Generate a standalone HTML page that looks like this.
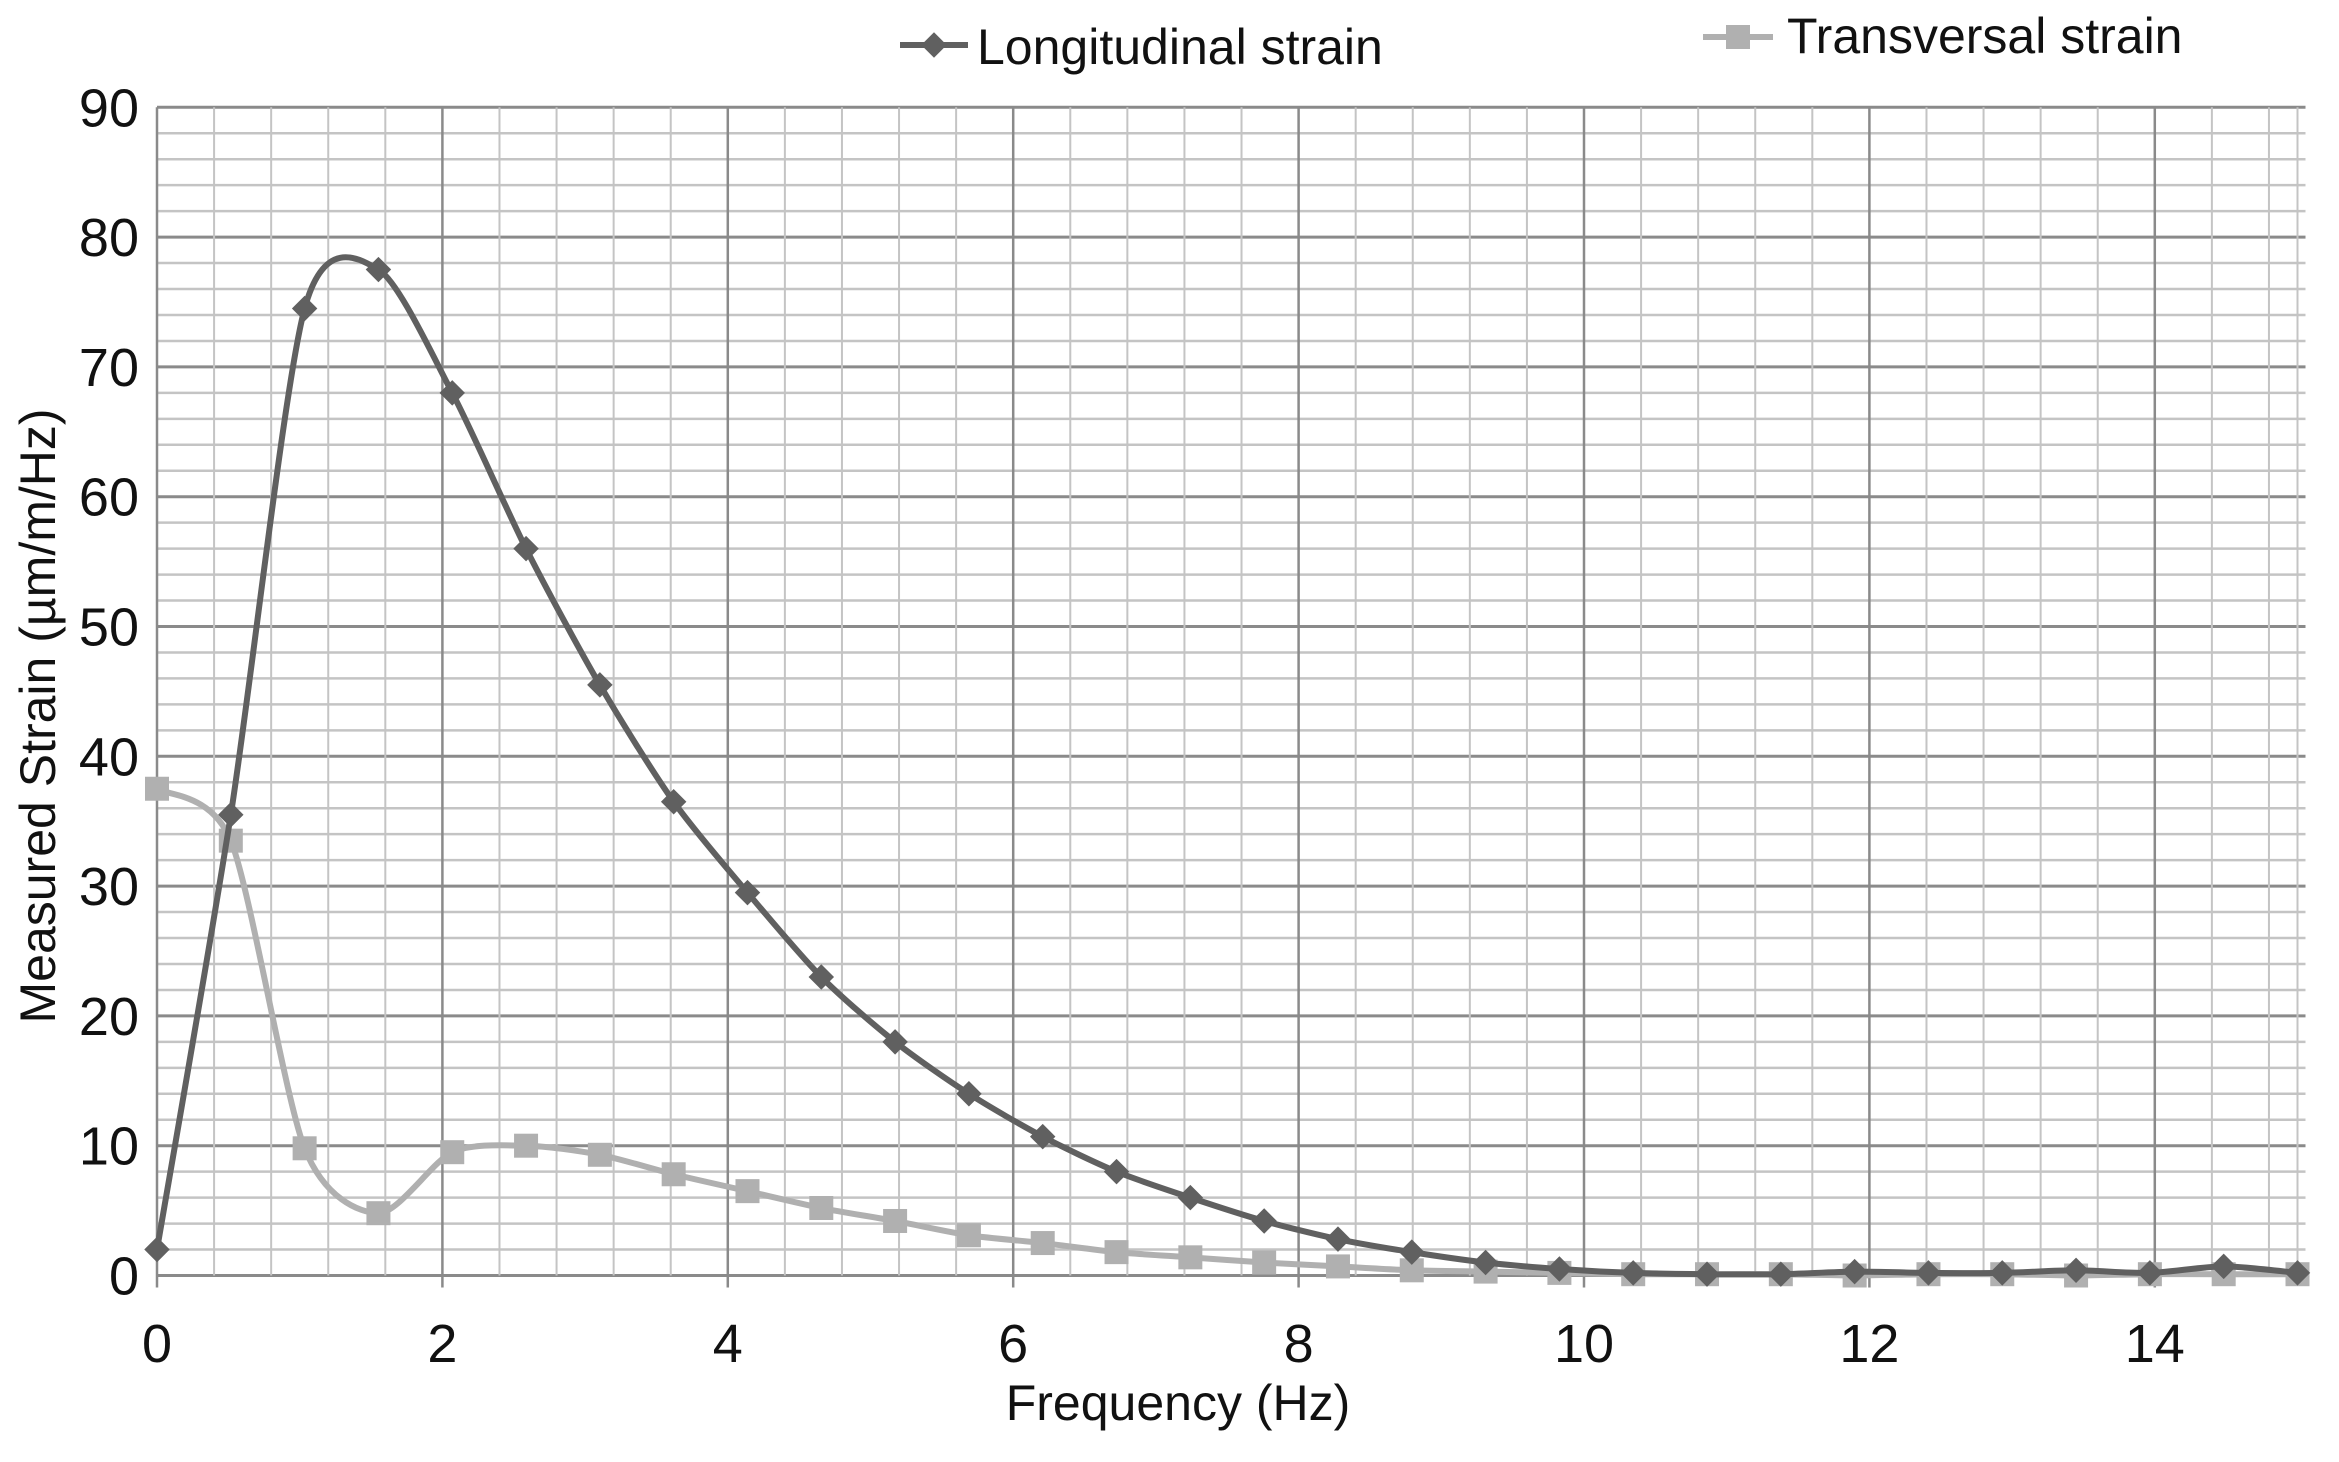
<!DOCTYPE html>
<html><head><meta charset="utf-8">
<style>html,body{margin:0;padding:0;background:#fff;}svg{display:block;}</style>
</head><body>
<svg id="s" width="2339" height="1462" viewBox="0 0 2339 1462" xmlns="http://www.w3.org/2000/svg" font-family="'Liberation Sans Narrow','Liberation Sans',sans-serif">
<rect width="2339" height="1462" fill="#fff"/>
<g id="grid"></g>
<g id="series"></g>
<g font-size="50" fill="#111">
<text x="977" y="64">Longitudinal strain</text>
<text x="1787" y="53">Transversal strain</text>
<text x="1178" y="1420" text-anchor="middle">Frequency (Hz)</text>
<text transform="translate(55,716) rotate(-90)" text-anchor="middle">Measured Strain (µm/m/Hz)</text>
</g>
<g id="ticks" font-size="54" fill="#111"></g>
<line x1="900" y1="45" x2="968" y2="45" stroke="#606060" stroke-width="6"/>
<rect x="925" y="36" width="18" height="18" fill="#606060" transform="rotate(45 934 45)"/>
<line x1="1703" y1="37" x2="1773" y2="37" stroke="#b0b0b0" stroke-width="6"/>
<rect x="1726" y="25" width="24" height="24" fill="#b0b0b0"/>
</svg>
<script>
var X0=157,XS=142.7,Y0=1275.5,YS=12.98;
function X(v){return X0+v*XS;} function Y(v){return Y0-v*YS;}
var ns="http://www.w3.org/2000/svg";
function el(p,t,a){var e=document.createElementNS(ns,t);for(var k in a)e.setAttribute(k,a[k]);document.getElementById(p).appendChild(e);return e;}
var xr=X(15)+8;
for(var i=0;i<=45;i++){var v=i*2;var maj=(v%10==0);
 el('grid','line',{x1:X0,x2:xr,y1:Y(v),y2:Y(v),stroke:maj?'#8a8a8a':'#c4c4c4','stroke-width':maj?3:2.5});}
for(var i=0;i<=37;i++){var v=i*0.4;var maj=(i%5==0);
 el('grid','line',{x1:X(v),x2:X(v),y1:Y(90),y2:Y(0)+(maj?12:0),stroke:maj?'#8a8a8a':'#c4c4c4','stroke-width':maj?2.5:2});}
el('grid','line',{x1:X(15),x2:X(15),y1:Y(90),y2:Y(0),stroke:'#c4c4c4','stroke-width':2});
for(var v=0;v<=90;v+=10){var t=el('ticks','text',{x:139,y:Y(v)+19,'text-anchor':'end'});t.textContent=v;}
for(var v=0;v<=14;v+=2){var t=el('ticks','text',{x:X(v),y:1362,'text-anchor':'middle'});t.textContent=v;}
var L=[2,35.5,74.5,77.5,68,56,45.5,36.5,29.5,23,18,14,10.7,8,6,4.2,2.8,1.8,1.0,0.5,0.2,0.1,0.1,0.3,0.2,0.2,0.4,0.2,0.7,0.2];
var T=[37.5,33.5,9.8,4.8,9.5,10,9.3,7.8,6.5,5.2,4.2,3.1,2.5,1.8,1.4,1.0,0.7,0.4,0.3,0.2,0.1,0.1,0.1,0,0.1,0.1,0,0.1,0.1,0.1];
function path(d){var p=d.map(function(v,i){return [X(i*15/29),Y(v)];});var s='M'+p[0][0]+','+p[0][1];var k=7.5;
 for(var i=0;i<p.length-1;i++){var a=p[Math.max(i-1,0)],b=p[i],c=p[i+1],e=p[Math.min(i+2,p.length-1)];
 s+=' C'+(b[0]+(c[0]-a[0])/k)+','+(b[1]+(c[1]-a[1])/k)+' '+(c[0]-(e[0]-b[0])/k)+','+(c[1]-(e[1]-b[1])/k)+' '+c[0]+','+c[1];}return s;}
el('series','path',{d:path(T),fill:'none',stroke:'#b0b0b0','stroke-width':6});
T.forEach(function(v,i){var x=X(i*15/29),y=Y(v);el('series','rect',{x:x-12,y:y-12,width:24,height:24,fill:'#b0b0b0'});});
el('series','path',{d:path(L),fill:'none',stroke:'#606060','stroke-width':6});
L.forEach(function(v,i){var x=X(i*15/29),y=Y(v);el('series','rect',{x:x-9,y:y-9,width:18,height:18,fill:'#606060',transform:'rotate(45 '+x+' '+y+')'});});
</script>
</body></html>
